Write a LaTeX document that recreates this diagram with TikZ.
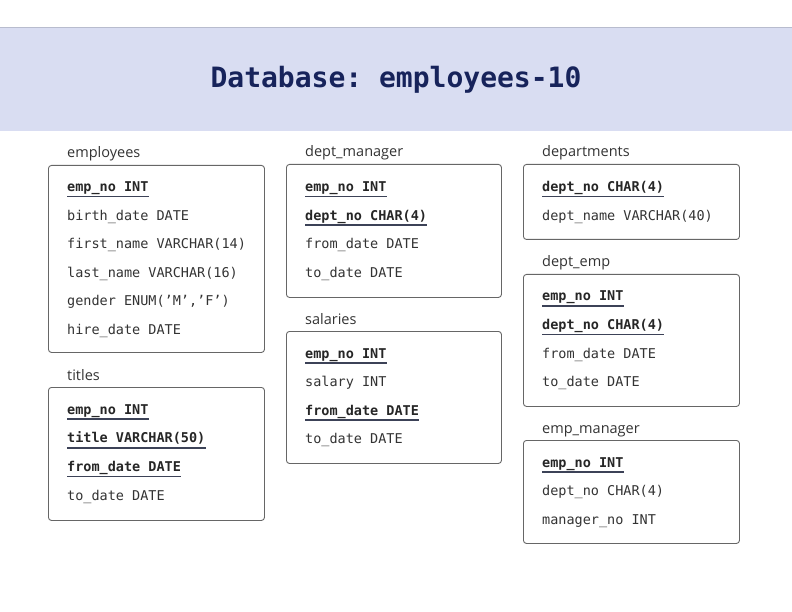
\documentclass[tikz,border=0pt]{standalone}
\usepackage{fontspec}
\setmainfont{Open Sans}
\setmonofont{DejaVu Sans Mono}
\usetikzlibrary{calc,positioning}

\definecolor{bannerbg}{HTML}{D9DDF2}
\definecolor{navy}{HTML}{17235B}
\definecolor{ink}{HTML}{333333}
\definecolor{keyline}{HTML}{3C4257}
\definecolor{frame}{HTML}{666666}

\tikzset{
  tbl/.style={draw=frame, line width=0.9pt, rounded corners=3pt, anchor=north west, inner sep=0pt},
  tname/.style={anchor=base west, inner sep=0pt, font=\fontsize{14.5}{17}\selectfont, text=ink},
  fld/.style={anchor=base west, inner sep=0pt, font=\ttfamily\fontsize{13.5}{16}\selectfont, text=ink},
  pk/.style={font=\ttfamily\bfseries\fontsize{13.5}{16}\selectfont, text=black!85,
    append after command={([yshift=-5pt]\tikzlastnode.base west) edge[draw=keyline, line width=1.6pt] ([yshift=-5pt]\tikzlastnode.base east)}},
  iskey/.code={\ifnum#1=1 \pgfkeysalso{pk}\fi},
}

\begin{document}
\begin{tikzpicture}[x=1pt,y=-1pt]
  \useasboundingbox (0,0) rectangle (792,612);
  % title bar
  \node[fill=bannerbg, minimum width=792pt, minimum height=103pt, inner sep=0pt,
        font=\ttfamily\bfseries\fontsize{28}{32}\selectfont, text=navy] (banner) at (396,79.5) {Database: employees-10};
  \draw[bannerbg!85!black, line width=0.6pt] (banner.north west) -- (banner.north east);

  % left column
  \node[tbl, minimum width=216pt, minimum height=187pt] (employees) at (48,165) {};
  \node[tname] (employees-name) at ($(employees.north west)+(19,-7)$) {employees};
  \foreach \t/\k [count=\i] in {emp\_no INT/1, birth\_date DATE/0, first\_name VARCHAR(14)/0,
      last\_name VARCHAR(16)/0, {gender ENUM(’M’,’F’)}/0, hire\_date DATE/0}
    \node[fld, iskey=\k] (employees-\i) at ($(employees.north west)+(19,{26.7+(\i-1)*28.5})$) {\t};

  \node[tbl, minimum width=216pt, minimum height=133pt] (titles) at (48,387) {};
  \node[tname] (titles-name) at ($(titles.north west)+(19,-7)$) {titles};
  \foreach \t/\k [count=\i] in {emp\_no INT/1, title VARCHAR(50)/1, from\_date DATE/1, to\_date DATE/0}
    \node[fld, iskey=\k] (titles-\i) at ($(titles.north west)+(19,{27+(\i-1)*28.7})$) {\t};

  % middle column
  \node[tbl, minimum width=215pt, minimum height=133pt] (dept-manager) at (286,164) {};
  \node[tname] (dept-manager-name) at ($(dept-manager.north west)+(19,-7)$) {dept\_manager};
  \foreach \t/\k [count=\i] in {emp\_no INT/1, dept\_no CHAR(4)/1, from\_date DATE/0, to\_date DATE/0}
    \node[fld, iskey=\k] (dept-manager-\i) at ($(dept-manager.north west)+(19,{27.5+(\i-1)*28.6})$) {\t};

  \node[tbl, minimum width=215pt, minimum height=132pt] (salaries) at (286,331) {};
  \node[tname] (salaries-name) at ($(salaries.north west)+(19,-7)$) {salaries};
  \foreach \t/\k [count=\i] in {emp\_no INT/1, salary INT/0, from\_date DATE/1, to\_date DATE/0}
    \node[fld, iskey=\k] (salaries-\i) at ($(salaries.north west)+(19,{27+(\i-1)*28.6})$) {\t};

  % right column
  \node[tbl, minimum width=216pt, minimum height=75pt] (departments) at (523,164) {};
  \node[tname] (departments-name) at ($(departments.north west)+(19,-7)$) {departments};
  \foreach \t/\k [count=\i] in {dept\_no CHAR(4)/1, dept\_name VARCHAR(40)/0}
    \node[fld, iskey=\k] (departments-\i) at ($(departments.north west)+(19,{27.5+(\i-1)*28.6})$) {\t};

  \node[tbl, minimum width=216pt, minimum height=132pt] (dept-emp) at (523,274) {};
  \node[tname] (dept-emp-name) at ($(dept-emp.north west)+(19,-7)$) {dept\_emp};
  \foreach \t/\k [count=\i] in {emp\_no INT/1, dept\_no CHAR(4)/1, from\_date DATE/0, to\_date DATE/0}
    \node[fld, iskey=\k] (dept-emp-\i) at ($(dept-emp.north west)+(19,{27+(\i-1)*28.6})$) {\t};

  \node[tbl, minimum width=216pt, minimum height=103pt] (emp-manager) at (523,440) {};
  \node[tname] (emp-manager-name) at ($(emp-manager.north west)+(19,-7)$) {emp\_manager};
  \foreach \t/\k [count=\i] in {emp\_no INT/1, dept\_no CHAR(4)/0, manager\_no INT/0}
    \node[fld, iskey=\k] (emp-manager-\i) at ($(emp-manager.north west)+(19,{27+(\i-1)*28.6})$) {\t};
\end{tikzpicture}
\end{document}
